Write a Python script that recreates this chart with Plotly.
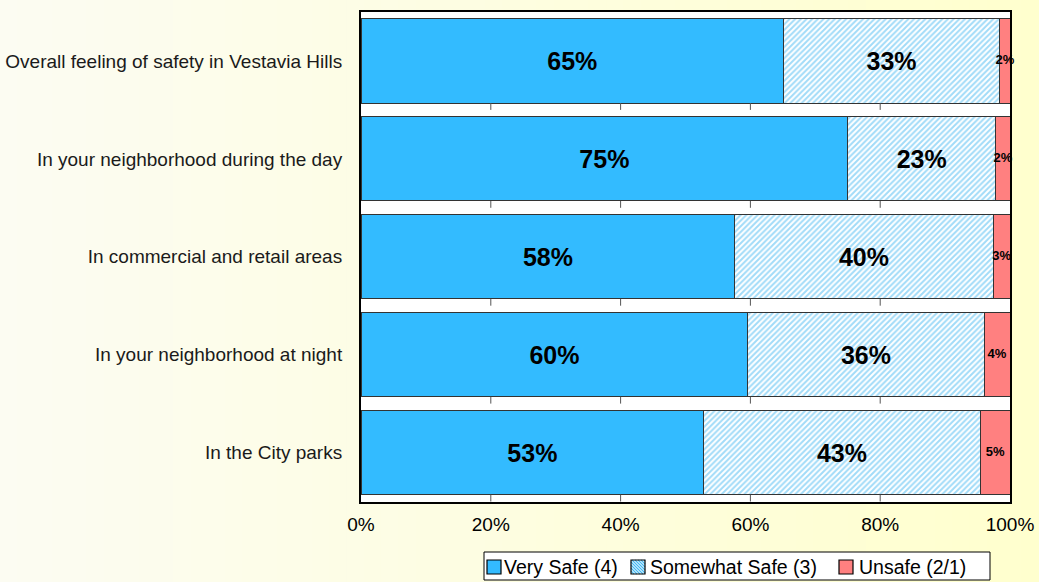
import plotly.graph_objects as go

# Survey items, top to bottom
categories = [
    "Overall feeling of safety in Vestavia Hills",
    "In your neighborhood during the day",
    "In commercial and retail areas",
    "In your neighborhood at night",
    "In the City parks",
]
very_safe = [65.1, 75.0, 57.6, 59.6, 52.8]
somewhat_safe = [33.3, 22.8, 39.8, 36.4, 42.6]
unsafe = [1.6, 2.2, 2.6, 4.0, 4.6]
series_names = ["Very Safe (4)", "Somewhat Safe (3)", "Unsafe (2/1)"]
x_ticks = [0, 20, 40, 60, 80, 100]
x_tick_labels = ["0%", "20%", "40%", "60%", "80%", "100%"]

FONT = "Arial, Liberation Sans, sans-serif"
BLUE = "#33BBFF"
HATCH = "#44B8F2"
RED = "#FF8080"
EDGE = "#333333"

W, H = 1039, 582
ML, MR, MT, MB = 361, 29, 12, 80
PW, PH = W - ML - MR, H - MT - MB


def px_x(px):
    """Pixel column -> paper x."""
    return (px - ML) / PW


def px_y(py):
    """Pixel row (from top) -> paper y."""
    return (H - MB - py) / PH


fig = go.Figure()

fig.add_trace(go.Bar(
    name=series_names[0], y=categories, x=very_safe, orientation="h",
    marker=dict(color=BLUE, line=dict(color=EDGE, width=1)),
    text=very_safe, texttemplate="%{x:.0f}%", textposition="inside",
    insidetextanchor="middle",
    textfont=dict(family=FONT, size=25, color="black", weight="bold"),
))
fig.add_trace(go.Bar(
    name=series_names[1], y=categories, x=somewhat_safe, orientation="h",
    marker=dict(color="white", line=dict(color=EDGE, width=1),
                pattern=dict(shape="/", fgcolor=HATCH, bgcolor="white",
                             size=4, solidity=0.5)),
    text=somewhat_safe, texttemplate="%{x:.0f}%", textposition="inside",
    insidetextanchor="middle",
    textfont=dict(family=FONT, size=25, color="black", weight="bold"),
))
fig.add_trace(go.Bar(
    name=series_names[2], y=categories, x=unsafe, orientation="h",
    marker=dict(color=RED, line=dict(color=EDGE, width=1)),
    textposition="none",
))

# Small labels for the narrow Unsafe segments, centred on each segment
mid_unsafe = [v + s + u / 2 for v, s, u in zip(very_safe, somewhat_safe, unsafe)]
fig.add_trace(go.Scatter(
    x=mid_unsafe, y=categories, mode="text",
    text=[f"{u:.0f}%" for u in unsafe],
    textfont=dict(family=FONT, size=13, color="black", weight="bold"),
    showlegend=False, hoverinfo="skip", cliponaxis=False,
))

shapes = []
annotations = []

# Background: soft horizontal gradient across the page, white plot area on top
n = 60
x_left, x_right = px_x(0), px_x(W)
c0, c1 = (252, 252, 242), (255, 255, 206)
for i in range(n):
    t = i / (n - 1)
    col = "rgb(%d,%d,%d)" % tuple(round(a + (b - a) * t) for a, b in zip(c0, c1))
    xa = x_left + (x_right - x_left) * i / n
    xb = x_left + (x_right - x_left) * (i + 1) / n + 0.002
    shapes.append(dict(type="rect", xref="paper", yref="paper", x0=xa, x1=xb,
                       y0=px_y(H), y1=px_y(0), fillcolor=col, line=dict(width=0),
                       layer="below"))
shapes.append(dict(type="rect", xref="paper", yref="paper", x0=0, x1=1, y0=0, y1=1,
                   fillcolor="white", line=dict(width=0), layer="below"))

# Short tick marks in the gaps between the bars
for k in range(len(categories)):
    for xv in x_ticks[1:-1]:
        shapes.append(dict(type="line", xref="x", yref="y", x0=xv, x1=xv,
                           y0=k + 0.5, y1=k + 0.43,
                           line=dict(color="#555555", width=1), layer="above"))

# Legend box drawn by hand so it keeps its compact single-line height
box_l, box_r, box_t, box_b = 484, 990, 552, 580
shapes.append(dict(type="rect", xref="paper", yref="paper",
                   x0=px_x(box_l), x1=px_x(box_r), y0=px_y(box_b), y1=px_y(box_t),
                   fillcolor="white", line=dict(color="black", width=1)))
sym_size = 14
sym_top = 560
legend_items = [
    (series_names[0], 487, 502, BLUE),
    (series_names[1], 631, 648, None),
    (series_names[2], 839, 857, RED),
]
for name, sx, tx, fill in legend_items:
    x0, x1 = sx, sx + sym_size
    y0, y1 = sym_top, sym_top + sym_size
    if fill is None:
        shapes.append(dict(type="rect", xref="paper", yref="paper",
                           x0=px_x(x0), x1=px_x(x1), y0=px_y(y1), y1=px_y(y0),
                           fillcolor="white", line=dict(width=0)))
        # diagonal hatch lines clipped to the symbol square
        step = 3
        c = step
        while c < 2 * sym_size:
            # line u + v = c in local coords (u right, v up)
            ua, va = max(0, c - sym_size), min(sym_size, c)
            ub, vb = min(sym_size, c), max(0, c - sym_size)
            shapes.append(dict(type="line", xref="paper", yref="paper",
                               x0=px_x(x0 + ua), y0=px_y(y1 - va),
                               x1=px_x(x0 + ub), y1=px_y(y1 - vb),
                               line=dict(color=HATCH, width=1.3)))
            c += step
        shapes.append(dict(type="rect", xref="paper", yref="paper",
                           x0=px_x(x0), x1=px_x(x1), y0=px_y(y1), y1=px_y(y0),
                           fillcolor="rgba(0,0,0,0)",
                           line=dict(color="black", width=1.2)))
    else:
        shapes.append(dict(type="rect", xref="paper", yref="paper",
                           x0=px_x(x0), x1=px_x(x1), y0=px_y(y1), y1=px_y(y0),
                           fillcolor=fill, line=dict(color="black", width=1.2)))
    annotations.append(dict(text=name, xref="paper", yref="paper",
                            x=px_x(tx), y=px_y(567),
                            xanchor="left", yanchor="middle", showarrow=False,
                            font=dict(family=FONT, size=19.5, color="black")))

fig.update_layout(
    width=W, height=H,
    margin=dict(l=ML, r=MR, t=MT, b=MB),
    barmode="stack", bargap=0.14,
    paper_bgcolor="#fdfde8", plot_bgcolor="white",
    font=dict(family=FONT, color="black"),
    shapes=shapes,
    annotations=annotations,
    showlegend=False,
    xaxis=dict(range=[0, 100], tickvals=x_ticks, ticktext=x_tick_labels,
               showgrid=False, zeroline=False, showline=True, mirror=True,
               linecolor="black", linewidth=2, ticks="", automargin=False,
               ticklabelstandoff=4,
               tickfont=dict(family=FONT, size=19, color="black")),
    yaxis=dict(autorange="reversed", showgrid=False, zeroline=False,
               showline=True, mirror=True, linecolor="black", linewidth=2,
               ticks="", ticklabelstandoff=13, automargin=False,
               tickfont=dict(family=FONT, size=19, color="#1a1a1a")),
)

fig.write_html("out.html")
